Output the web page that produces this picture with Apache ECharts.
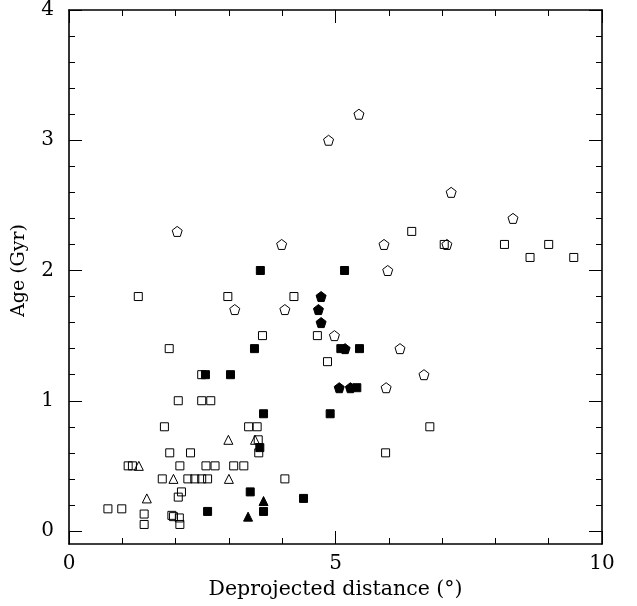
<!DOCTYPE html>
<html><head><meta charset="utf-8">
<script src="https://cdn.jsdelivr.net/npm/echarts@6/dist/echarts.min.js"></script>
<style>html,body{margin:0;padding:0;background:#fff}#c{width:637px;height:606px}</style>
</head><body><div id="c"></div>
<script>
// Data: [deprojected distance (deg), age (Gyr)]
const openSquares = [
  [0.73,0.17],[0.99,0.17],[1.41,0.13],[1.41,0.05],[1.93,0.12],[1.96,0.11],[2.07,0.10],[2.08,0.05],
  [2.05,0.26],[2.11,0.30],
  [1.11,0.5],[1.19,0.5],[2.08,0.5],[2.57,0.5],[2.74,0.5],[3.09,0.5],[3.28,0.5],
  [1.75,0.4],[2.23,0.4],[2.36,0.4],[2.49,0.4],[2.60,0.4],[4.05,0.4],
  [1.89,0.6],[2.28,0.6],[3.56,0.6],[5.94,0.6],
  [3.55,0.7],
  [1.79,0.8],[3.37,0.8],[3.53,0.8],[6.77,0.8],
  [2.05,1.0],[2.49,1.0],[2.66,1.0],
  [2.49,1.2],[4.85,1.3],[1.88,1.4],[3.63,1.5],[4.66,1.5],
  [1.30,1.8],[2.98,1.8],[4.22,1.8],
  [7.04,2.2],[8.17,2.2],[9.00,2.2],[8.65,2.1],[9.47,2.1],[6.43,2.3]
];
const filledSquares = [
  [2.60,0.15],[3.65,0.15],[3.40,0.30],[4.40,0.25],[3.58,0.64],[3.65,0.9],[4.90,0.9],[5.40,1.1],
  [2.56,1.2],[3.03,1.2],[3.48,1.4],[5.10,1.4],[5.45,1.4],[3.59,2.0],[5.17,2.0]
];
const openTriangles = [[1.31,0.5],[1.46,0.25],[1.96,0.4],[3.00,0.4],[2.99,0.7],[3.49,0.7]];
const filledTriangles = [[3.36,0.11],[3.65,0.23]];
const openPentagons = [
  [2.03,2.3],[3.99,2.2],[3.11,1.7],[4.05,1.7],[4.98,1.5],[6.21,1.4],[6.66,1.2],[5.95,1.1],
  [5.98,2.0],[5.91,2.2],[7.09,2.2],[7.17,2.6],[8.33,2.4],[4.87,3.0],[5.44,3.2]
];
const filledPentagons = [[4.73,1.8],[4.68,1.7],[4.73,1.6],[5.18,1.4],[5.07,1.1],[5.28,1.1]];

const xRange = [0, 10], xStep = 5;
const yFrame = [-0.1, 4];          // plotted frame extent
const yTickRange = [0, 4], yStep = 1; // tick/label extent

const FONT = 'DejaVu Serif';
const pent = 'path://M0,-10L9.51,-3.09L5.88,8.09L-5.88,8.09L-9.51,-3.09Z';
const BLACK = '#000';

function xAx(pos, lab) {
  return {
    type:'value', gridIndex:0, position:pos, min:xRange[0], max:xRange[1], interval:xStep,
    name: lab ? 'Deprojected distance (°)' : '', nameLocation:'middle', nameGap:35,
    nameTextStyle:{fontFamily:FONT, fontSize:20.5, color:BLACK},
    axisLine:{show:true, onZero:false, lineStyle:{color:BLACK, width:1.6}},
    axisTick:{show:true, inside:true, length:13, lineStyle:{color:BLACK, width:1}},
    minorTick:{show:true, splitNumber:5, length:6, lineStyle:{color:BLACK, width:1}},
    splitLine:{show:false},
    axisLabel:{show:lab, margin:10, fontFamily:FONT, fontSize:20, color:BLACK}
  };
}
// frame-only y axes on the data grid
function yFrameAx(pos) {
  return {
    type:'value', gridIndex:0, position:pos, min:yFrame[0], max:yFrame[1],
    axisLine:{show:true, onZero:false, lineStyle:{color:BLACK, width:1.6}},
    axisTick:{show:false}, minorTick:{show:false}, splitLine:{show:false}, axisLabel:{show:false}
  };
}
// tick-bearing y axes on an overlay grid spanning 0..4
function yTickAx(pos, lab) {
  return {
    type:'value', gridIndex:1, position:pos, min:yTickRange[0], max:yTickRange[1], interval:yStep,
    name: lab ? 'Age (Gyr)' : '', nameLocation:'middle', nameGap:40,
    nameTextStyle:{fontFamily:FONT, fontSize:19, color:BLACK},
    axisLine:{show:false},
    axisTick:{show:true, inside:true, length:13, lineStyle:{color:BLACK, width:1}},
    minorTick:{show:true, splitNumber:5, length:6, lineStyle:{color:BLACK, width:1}},
    splitLine:{show:false},
    axisLabel:{show:lab, margin:15, fontFamily:FONT, fontSize:20, color:BLACK}
  };
}
function ser(data, symbol, size, filled) {
  return {
    type:'scatter', data, symbol, symbolSize:size, xAxisIndex:0, yAxisIndex:0,
    itemStyle:{color: filled ? BLACK : 'rgba(255,255,255,0)', borderColor:BLACK, borderWidth:1, opacity:1},
    emphasis:{disabled:true}
  };
}
const chart = echarts.init(document.getElementById('c'), null, {renderer:'canvas'});
chart.setOption({
  animation:false,
  backgroundColor:'#fff',
  grid:[
    {left:69, right:35, top:10, bottom:62},
    {left:69, right:35, top:10, bottom:75}
  ],
  xAxis:[
    xAx('bottom', true), xAx('top', false),
    {type:'value', gridIndex:1, min:xRange[0], max:xRange[1], show:false}
  ],
  yAxis:[
    yFrameAx('left'), yFrameAx('right'),
    yTickAx('left', true), yTickAx('right', false)
  ],
  series:[
    ser(openSquares, 'rect', 8, false),
    ser(filledSquares, 'rect', 8, true),
    ser(openTriangles, 'triangle', 9, false),
    ser(filledTriangles, 'triangle', 9, true),
    ser(openPentagons, pent, 10, false),
    ser(filledPentagons, pent, 10, true)
  ]
});
</script></body></html>
